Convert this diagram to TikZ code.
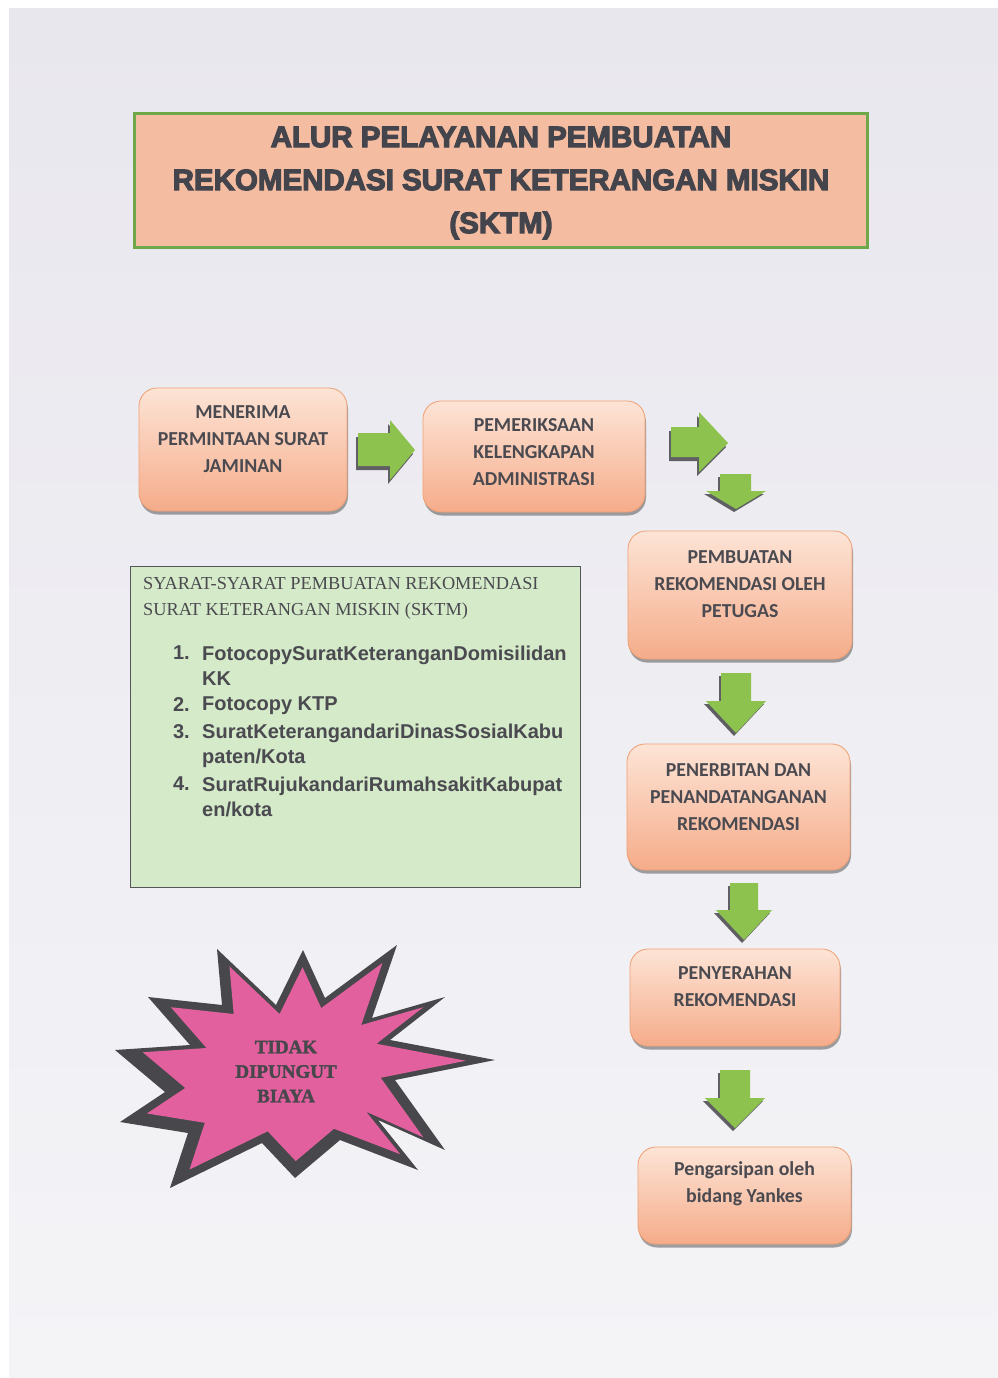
\documentclass[tikz,border=0pt]{standalone}
\usepackage{fontspec}
\setmainfont{Liberation Serif}
\newfontfamily\titlefont{Liberation Sans}[FakeBold=4]
\newfontfamily\boxfont{Carlito}
\newfontfamily\listfont{Liberation Sans}
\newfontfamily\hdrfont{Liberation Serif}
\newfontfamily\starfont{Liberation Serif}[FakeBold=2]
\usetikzlibrary{shadows}
\definecolor{pagetop}{RGB}{233,231,238}
\definecolor{pagebot}{RGB}{244,244,247}
\definecolor{titlefill}{RGB}{244,188,160}
\definecolor{titleedge}{RGB}{110,168,72}
\definecolor{titletxt}{RGB}{68,68,76}
\definecolor{boxtop}{RGB}{253,228,214}
\definecolor{boxbot}{RGB}{245,172,138}
\definecolor{boxedge}{RGB}{240,160,115}
\definecolor{txtgrey}{RGB}{74,74,80}
\definecolor{agreen}{RGB}{141,194,78}
\definecolor{ashadow}{RGB}{95,95,100}
\definecolor{reqfill}{RGB}{212,234,200}
\definecolor{reqedge}{RGB}{85,85,90}
\definecolor{stardark}{RGB}{72,72,76}
\definecolor{starpink}{RGB}{226,96,158}
\begin{document}
\begin{tikzpicture}[x=1pt,y=-1pt,
  stepbox/.style={draw=boxedge, line width=0.8pt, rounded corners=18pt,
    top color=boxtop, bottom color=boxbot, inner sep=0pt,
    drop shadow={shadow xshift=1pt, shadow yshift=-3.5pt, fill=black, opacity=0.35}},
  boxtext/.style={font=\boxfont\bfseries\fontsize{19.8}{27}\selectfont, text=txtgrey, align=center, inner sep=0pt},
  listtext/.style={font=\listfont\bfseries\fontsize{20}{24.5}\selectfont, text=txtgrey, align=left, inner sep=0pt},
  arrfill/.style={fill=agreen},
  arrshade/.style={fill=ashadow},
  starburst/.pic={\path[pic actions] (-83,-116) -- (-24,-60) -- (3,-115) -- (25,-67) -- (97,-120) -- (72,-47) -- (145,-68) -- (90,-25) -- (195,-5) -- (95,15) -- (145,85) -- (78,55) -- (118,105) -- (40,75) -- (-5,113) -- (-38,78) -- (-130,123) -- (-112,68) -- (-180,57) -- (-135,27) -- (-185,-15) -- (-110,-20) -- (-152,-68) -- (-78,-60) -- cycle;}
]
\useasboundingbox (0,0) rectangle (998,1378);
\fill[white] (0,0) rectangle (998,1378);
\node[anchor=north west, inner sep=0pt, minimum width=989pt, minimum height=1370pt, top color=pagetop, bottom color=pagebot] (page) at (9,8) {};

% title
\node[draw=titleedge, line width=2.6pt, fill=titlefill, minimum width=733pt, minimum height=134pt, inner sep=0pt] (titlebox) at (501,180.5) {};
\node[font=\titlefont\bfseries\fontsize{29.5}{43}\selectfont, text=titletxt, align=center, inner sep=0pt] (title) at (501,183) {ALUR PELAYANAN PEMBUATAN\\REKOMENDASI SURAT KETERANGAN MISKIN\\(SKTM)};

% process boxes
\node[stepbox, minimum width=208pt, minimum height=123pt] (b1) at (243,449.5) {};
\node[boxtext] (t1) at (243,439) {MENERIMA\\PERMINTAAN SURAT\\JAMINAN};
\node[stepbox, minimum width=222pt, minimum height=111pt] (b2) at (534,456.5) {};
\node[boxtext] (t2) at (534,452) {PEMERIKSAAN\\KELENGKAPAN\\ADMINISTRASI};
\node[stepbox, minimum width=224pt, minimum height=128pt] (b3) at (740,595) {};
\node[boxtext] (t3) at (740,584) {PEMBUATAN\\REKOMENDASI OLEH\\PETUGAS};
\node[stepbox, minimum width=223pt, minimum height=126pt] (b4) at (738.5,807) {};
\node[boxtext] (t4) at (738.5,797) {PENERBITAN DAN\\PENANDATANGANAN\\REKOMENDASI};
\node[stepbox, minimum width=210pt, minimum height=97pt] (b5) at (735,997.5) {};
\node[boxtext] (t5) at (735,986.5) {PENYERAHAN\\REKOMENDASI};
\node[stepbox, minimum width=213pt, minimum height=97pt] (b6) at (744.5,1195.5) {};
\node[boxtext] (t6) at (744.5,1184) {Pengarsipan oleh\\bidang Yankes};

% block arrows
\fill[arrshade, shift={(-2,4)}] (358,433) -- (390,433) -- (390,420) -- (415,450) -- (390,480) -- (390,466) -- (358,466) -- cycle;
\fill[arrfill] (358,433) -- (390,433) -- (390,420) -- (415,450) -- (390,480) -- (390,466) -- (358,466) -- cycle;
\fill[arrshade, shift={(-2,4)}] (671,427) -- (699,427) -- (699,412) -- (728,443) -- (699,472) -- (699,457) -- (671,457) -- cycle;
\fill[arrfill] (671,427) -- (699,427) -- (699,412) -- (728,443) -- (699,472) -- (699,457) -- (671,457) -- cycle;
\fill[arrshade, shift={(-2,3)}] (720,474) -- (751,474) -- (751,491) -- (766,491) -- (736,509) -- (706,491) -- (720,491) -- cycle;
\fill[arrfill] (720,474) -- (751,474) -- (751,491) -- (766,491) -- (736,509) -- (706,491) -- (720,491) -- cycle;
\fill[arrshade, shift={(-2,3)}] (721,673) -- (751,673) -- (751,701) -- (766,701) -- (736,733) -- (706,701) -- (721,701) -- cycle;
\fill[arrfill] (721,673) -- (751,673) -- (751,701) -- (766,701) -- (736,733) -- (706,701) -- (721,701) -- cycle;
\fill[arrshade, shift={(-2,3)}] (730,883) -- (758,883) -- (758,910) -- (772,910) -- (744,940) -- (716,910) -- (730,910) -- cycle;
\fill[arrfill] (730,883) -- (758,883) -- (758,910) -- (772,910) -- (744,940) -- (716,910) -- (730,910) -- cycle;
\fill[arrshade, shift={(-2,3)}] (720,1070) -- (750,1070) -- (750,1098) -- (765,1098) -- (735,1128) -- (705,1098) -- (720,1098) -- cycle;
\fill[arrfill] (720,1070) -- (750,1070) -- (750,1098) -- (765,1098) -- (735,1128) -- (705,1098) -- (720,1098) -- cycle;

% requirements box
\node[draw=reqedge, line width=0.8pt, fill=reqfill, anchor=north west, minimum width=450pt, minimum height=321pt, inner sep=0pt] (req) at (130,566) {};
\node[anchor=north west, font=\hdrfont\fontsize{18.3}{26}\selectfont, text=txtgrey, align=left, inner sep=0pt] (reqhead) at (143,577) {SYARAT-SYARAT PEMBUATAN REKOMENDASI\\SURAT KETERANGAN MISKIN (SKTM)};
\node[listtext, anchor=north east] (n1) at (190,646) {1.};
\node[listtext, anchor=north west] (i1) at (202,646) {FotocopySuratKeteranganDomisilidan\\KK};
\node[listtext, anchor=north east] (n2) at (190,697) {2.};
\node[listtext, anchor=north west] (i2) at (202,697) {Fotocopy KTP};
\node[listtext, anchor=north east] (n3) at (190,724) {3.};
\node[listtext, anchor=north west] (i3) at (202,724) {SuratKeterangandariDinasSosialKabu\\paten/Kota};
\node[listtext, anchor=north east] (n4) at (190,777) {4.};
\node[listtext, anchor=north west] (i4) at (202,777) {SuratRujukandariRumahsakitKabupat\\en/kota};

% starburst
\pic[fill=stardark] at (300,1065) {starburst};
\pic[fill=starpink, scale=0.85] at (300,1065) {starburst};
\node[font=\starfont\bfseries\fontsize{19}{24.5}\selectfont, text=stardark, align=center, inner sep=0pt] (star) at (286,1071.5) {TIDAK\\DIPUNGUT\\BIAYA};
\end{tikzpicture}
\end{document}
